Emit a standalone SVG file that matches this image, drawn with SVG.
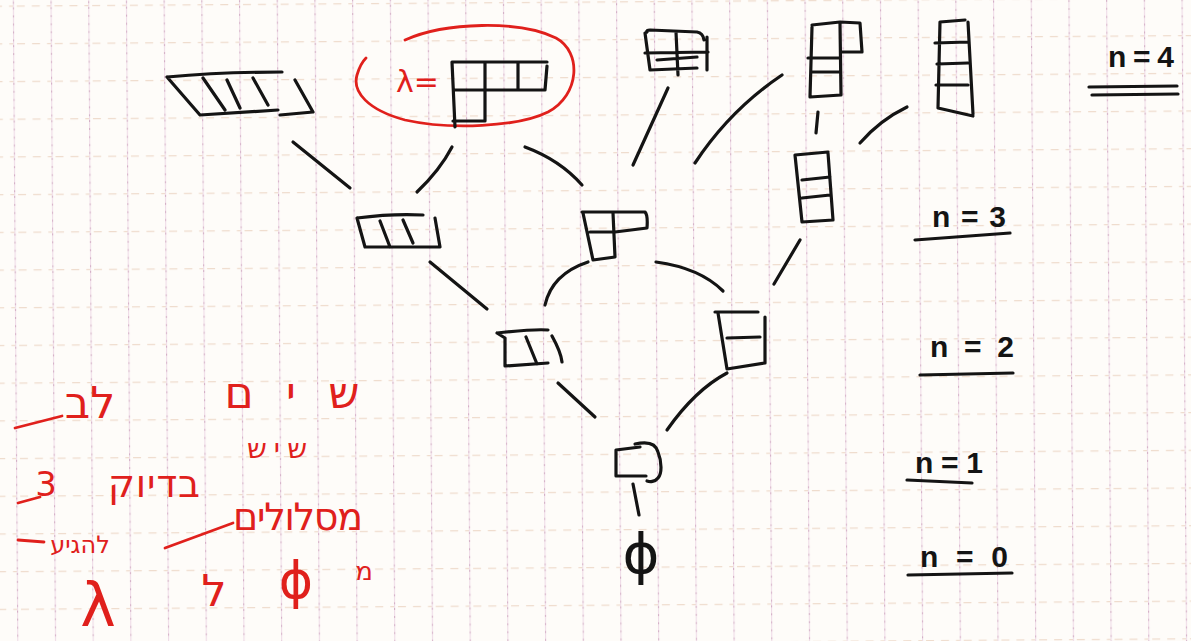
<svg xmlns="http://www.w3.org/2000/svg" width="1191" height="641" viewBox="0 0 1191 641">
  <defs>
    <pattern id="grid" patternUnits="userSpaceOnUse" x="15" y="1.4" width="37.7" height="37.7" patternTransform="rotate(-0.4 600 320)">
      <line x1="0.6" y1="0" x2="0.6" y2="37.7" stroke="#efdbe7" stroke-width="1.1"/>
      <line x1="0.6" y1="2" x2="0.6" y2="37.7" stroke="#c99fba" stroke-width="1" stroke-dasharray="2 6" opacity="0.8"/>
      <line x1="4" y1="0.6" x2="37.7" y2="0.6" stroke="#efdccd" stroke-width="1.1" stroke-dasharray="8 7"/>
    </pattern>
    <style>
      .ink { fill: none; stroke: #141414; stroke-width: 3.2; stroke-linecap: round; stroke-linejoin: round; }
      .red { fill: none; stroke: #e0201c; stroke-width: 2.8; stroke-linecap: round; stroke-linejoin: round; }
      .lbl { font-family: "Liberation Sans", "DejaVu Sans", sans-serif; font-weight: bold; fill: #141414; }
      .heb { font-family: "DejaVu Sans", "Liberation Sans", sans-serif; fill: #e0201c; }
      .sym { font-family: "DejaVu Sans", sans-serif; }
    </style>
  </defs>

  <rect x="0" y="0" width="1191" height="641" fill="#fefcf9"/>
  <rect x="0" y="0" width="1191" height="641" fill="url(#grid)"/>

  <g id="connectors">
    <path class="ink" d="M633,484 L639,515"/>
    <path class="ink" d="M558,383 L595,417"/>
    <path class="ink" d="M667,430 Q695,390 727,373"/>
    <path class="ink" d="M430,262 L487,309"/>
    <path class="ink" d="M545,305 Q552,274 588,262"/>
    <path class="ink" d="M656,262 Q700,268 723,291"/>
    <path class="ink" d="M774,284 L800,240"/>
    <path class="ink" d="M293,142 L350,188"/>
    <path class="ink" d="M417,192 Q440,170 452,147"/>
    <path class="ink" d="M525,147 Q560,160 582,185"/>
    <path class="ink" d="M633,165 L668,88"/>
    <path class="ink" d="M695,163 Q730,110 782,75"/>
    <path class="ink" d="M818,112 L816,133"/>
    <path class="ink" d="M860,143 Q880,120 907,107"/>
  </g>

  <g id="node-empty">
    <text class="sym" x="641" y="573" font-size="56" text-anchor="middle" fill="#141414">ϕ</text>
  </g>

  <g id="node-1">
    <path class="ink" d="M616,450 L616,476 L646,476 M616,450 L640,447 M635,444 C648,441 656,444 658,452 C662,462 662,474 658,478 C655,482 650,482 647,481"/>
  </g>

  <g id="node-2">
    <path class="ink" d="M497,333 L505,338 L505,366 L548,363 M497,333 C515,331 535,329 548,330 M552,336 C557,345 561,353 562,362 M526,337 L537,364"/>
  </g>

  <g id="node-11">
    <path class="ink" d="M715,312 L758,312 M718,313 L727,369 L765,363 M765,317 L765,363 M727,338 L760,337"/>
  </g>

  <g id="node-3">
    <path class="ink" d="M357,218 C380,215 405,214 423,215 M357,218 L365,247 L438,247 M435,218 L440,247 M380,221 L390,247 M403,220 L413,243"/>
  </g>

  <g id="node-21">
    <path class="ink" d="M582,212 L645,212 Q648,215 647,228 L615,232 L590,232 M583,213 L593,260 L615,257 L613,213"/>
  </g>

  <g id="node-111">
    <path class="ink" d="M795,155 L828,152 M795,155 L802,222 L833,220 M828,153 L833,220 M802,180 L830,177 M802,198 L830,195"/>
  </g>

  <g id="node-4">
    <path class="ink" d="M167,77 C200,74 240,72 282,72 M167,77 L200,115 L278,110 M203,78 L225,110 M227,80 L240,108 M253,78 L268,105 M295,80 L313,112 L280,115"/>
  </g>

  <g id="node-31">
    <path class="red" d="M405,40 C445,22 520,20 556,38 C582,52 580,95 548,112 C518,127 450,130 405,120 C368,110 352,92 357,75 C359,68 362,62 366,58"/>
    <text class="heb" x="396" y="92" font-size="30">λ=</text>
    <path class="ink" d="M452,62 L547,62 M455,90 L545,90 M547,66 L545,90 M485,63 L485,121 M518,63 L518,90 M452,62 L455,127 M453,121 L485,121"/>
  </g>

  <g id="node-22">
    <path class="ink" d="M647,32 Q646,30 650,30 L697,32 Q703,33 704,40 M645,33 L650,70 L697,68 M676,32 L678,75 M645,53 L708,52 M657,60 L697,57 M707,37 L707,70"/>
  </g>

  <g id="node-211">
    <path class="ink" d="M812,25 L840,22 L860,23 L862,52 L842,52 M812,27 L810,97 L841,95 L840,23 M808,58 L840,58 M812,72 L840,72"/>
  </g>

  <g id="node-1111">
    <path class="ink" d="M940,22 L965,20 M940,22 L938,108 L973,116 M968,22 L973,114 M935,43 L968,42 M937,64 L968,63 M936,85 L968,85"/>
  </g>

  <g id="levels">
    <text class="lbl" x="1108" y="67" font-size="30" textLength="66" lengthAdjust="spacing">n=4</text>
    <path class="ink" d="M1089,87 L1177,86 M1092,95 L1178,94"/>
    <text class="lbl" x="932" y="227" font-size="30" textLength="74" lengthAdjust="spacing">n=3</text>
    <path class="ink" d="M915,240 L1010,233"/>
    <text class="lbl" x="930" y="357" font-size="30" textLength="84" lengthAdjust="spacing">n=2</text>
    <path class="ink" d="M920,375 L1013,373"/>
    <text class="lbl" x="915" y="473" font-size="30" textLength="68" lengthAdjust="spacing">n=1</text>
    <path class="ink" d="M907,480 L972,483"/>
    <text class="lbl" x="920" y="567" font-size="30" textLength="88" lengthAdjust="spacing">n=0</text>
    <path class="ink" d="M908,575 L1012,573"/>
  </g>

  <g id="note">
    <text class="heb" x="292" y="408" font-size="44" text-anchor="middle" textLength="135" lengthAdjust="spacing">שים</text>
    <text class="heb" x="90" y="418" font-size="44" text-anchor="middle">לב</text>
    <path class="red" d="M15,428 L62,416"/>
    <text class="heb" x="277" y="458" font-size="28" text-anchor="middle" textLength="60" lengthAdjust="spacing">שיש</text>
    <text class="heb" x="154" y="497" font-size="38" text-anchor="middle" textLength="92" lengthAdjust="spacing">בדיוק</text>
    <text class="heb" x="46" y="496" font-size="34" text-anchor="middle">3</text>
    <path class="red" d="M18,503 L40,497"/>
    <text class="heb" x="298" y="530" font-size="38" text-anchor="middle" textLength="130" lengthAdjust="spacing">מסלולים</text>
    <path class="red" d="M165,548 L233,523"/>
    <text class="heb" x="80" y="553" font-size="24" text-anchor="middle">להגיע</text>
    <path class="red" d="M18,540 L44,542"/>
    <text class="heb" x="364" y="580" font-size="26" text-anchor="middle">מ</text>
    <text class="heb" x="296" y="598" font-size="52" text-anchor="middle">ϕ</text>
    <text class="heb" x="214" y="606" font-size="44" text-anchor="middle">ל</text>
    <text class="heb" x="98" y="626" font-size="60" text-anchor="middle">λ</text>
  </g>
</svg>
